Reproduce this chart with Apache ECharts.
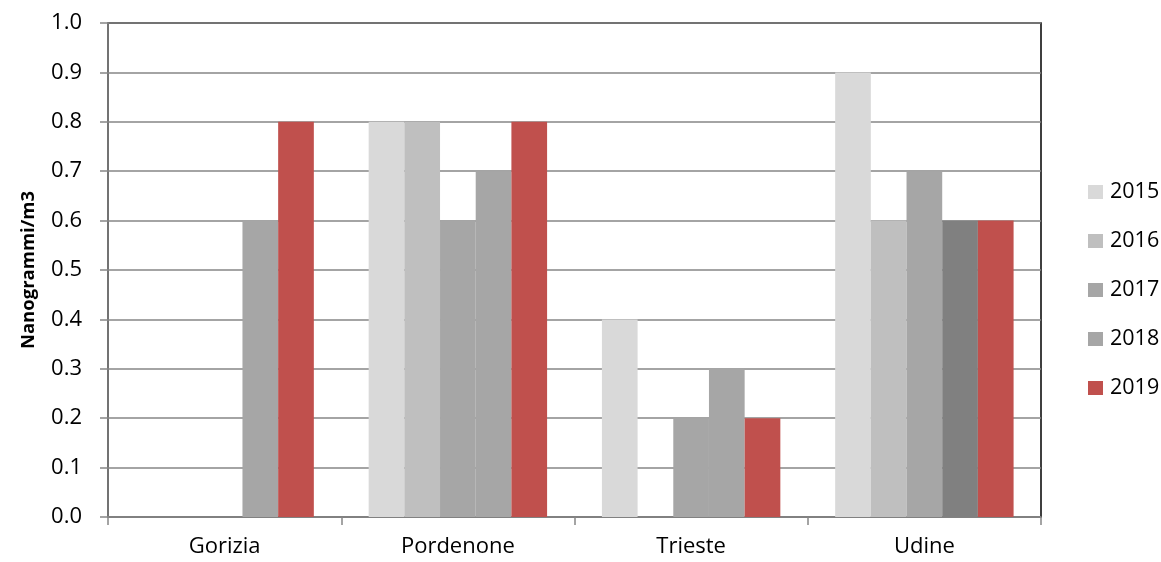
<!DOCTYPE html>
<html>
<head>
<meta charset="utf-8">
<script src="https://cdn.jsdelivr.net/npm/echarts@6/dist/echarts.min.js"></script>
<style>
html,body{margin:0;padding:0;background:#fff;}
#chart{width:1161px;height:562px;}
</style>
</head>
<body>
<div id="chart"></div>
<script>
const categories = ['Gorizia', 'Pordenone', 'Trieste', 'Udine'];
const years = ['2015', '2016', '2017', '2018', '2019'];
const v2015 = [null, 0.8, 0.4, 0.9];
const v2016 = [null, 0.8, null, 0.6];
const v2017 = [null, 0.6, 0.2, 0.7];
const v2018 = [0.6, 0.7, 0.3, 0.6];
const v2019 = [0.8, 0.8, 0.2, 0.6];
const yTicks = ['0.0','0.1','0.2','0.3','0.4','0.5','0.6','0.7','0.8','0.9','1.0'];

const values = [v2015, v2016, v2017, v2018, v2019];
const colors = ['#D9D9D9', '#BFBFBF', '#A6A6A6', '#A6A6A6', '#C0504D'];
const font = '"Open Sans", "Liberation Sans", sans-serif';

const series = years.map((y, i) => ({
  name: y,
  type: 'bar',
  barGap: '0%',
  barCategoryGap: '23.5%',
  itemStyle: { color: colors[i] },
  data: values[i].map((v, j) => {
    if (y === '2018' && categories[j] === 'Udine') {
      return { value: v, itemStyle: { color: '#808080' } };
    }
    return v;
  })
}));

const chart = echarts.init(document.getElementById('chart'));
chart.setOption({
  animation: false,
  backgroundColor: '#fff',
  grid: {
    left: 108, right: 120, top: 23, bottom: 45,
    show: true, borderColor: '#000', borderWidth: 1.5, backgroundColor: 'transparent'
  },
  legend: {
    orient: 'vertical',
    left: 1083,
    top: 176,
    itemWidth: 15,
    itemHeight: 14,
    itemGap: 27,
    icon: 'rect',
    textStyle: { fontFamily: font, fontSize: 21.5, color: '#000', padding: [0, 0, 0, 2] },
    data: years
  },
  xAxis: {
    type: 'category',
    data: categories,
    axisLine: { lineStyle: { color: '#868686', width: 1.5 } },
    axisTick: { show: true, inside: false, length: 8, alignWithLabel: false, lineStyle: { color: '#868686', width: 1.5 } },
    axisLabel: { fontFamily: font, fontSize: 22, color: '#000', margin: 19 }
  },
  yAxis: {
    type: 'value',
    min: 0, max: 1, interval: 0.1,
    name: 'Nanogrammi/m3',
    nameLocation: 'middle',
    nameGap: 70,
    nameRotate: 90,
    nameTextStyle: { fontFamily: font, fontSize: 18.5, fontWeight: 'bold', color: '#000' },
    axisLine: { show: true, lineStyle: { color: '#868686', width: 1.5 } },
    axisTick: { show: true, inside: false, length: 8, lineStyle: { color: '#868686', width: 1.5 } },
    axisLabel: {
      fontFamily: font, fontSize: 22, color: '#000', margin: 26,
      formatter: (v) => yTicks[Math.round(v * 10)]
    },
    splitLine: { show: true, lineStyle: { color: '#868686', width: 1.5 } }
  },
  series: series
});
</script>
</body>
</html>
